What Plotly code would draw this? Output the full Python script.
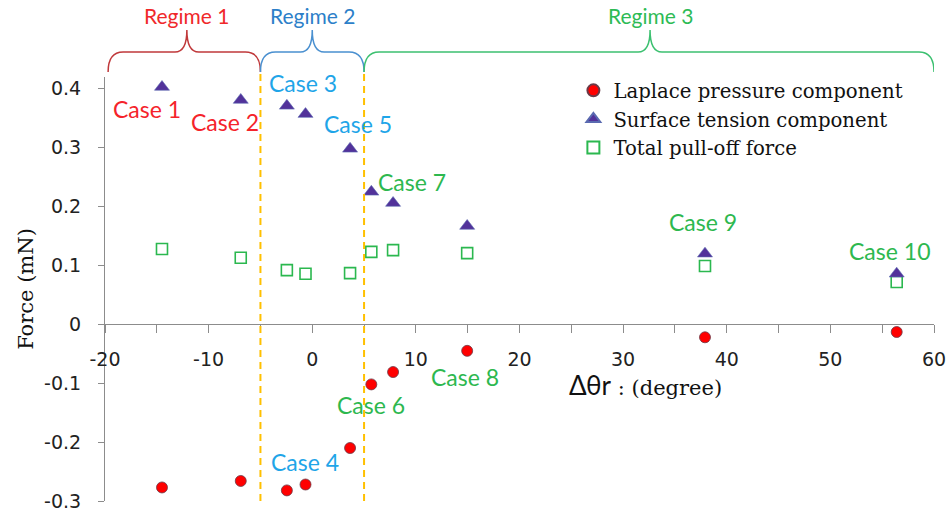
import plotly.graph_objects as go

# ---------------- data ----------------
cases = ["Case 1", "Case 2", "Case 3", "Case 4", "Case 5",
         "Case 6", "Case 7", "Case 8", "Case 9", "Case 10"]
delta_theta = [-14.5, -6.9, -2.45, -0.65, 3.65, 5.7, 7.8, 14.95, 37.9, 56.4]
laplace = [-0.277, -0.266, -0.282, -0.272, -0.210, -0.102, -0.081, -0.045, -0.022, -0.013]
surface = [0.403, 0.381, 0.371, 0.357, 0.298, 0.225, 0.206, 0.167, 0.120, 0.086]
total = [0.128, 0.113, 0.092, 0.086, 0.087, 0.123, 0.126, 0.121, 0.099, 0.072]

x_ticks = [-20, -10, 0, 10, 20, 30, 40, 50, 60]
x_ticklabels = ["-20", "-10", "0", "10", "20", "30", "40", "50", "60"]
y_ticks = [-0.3, -0.2, -0.1, 0, 0.1, 0.2, 0.3, 0.4]
y_ticklabels = ["-0.3", "-0.2", "-0.1", "0", "0.1", "0.2", "0.3", "0.4"]

# case label anchor positions (data coords) and colours
case_label_x = [-15.97, -8.41, -0.92, -0.68, 4.44, 5.70, 9.66, 14.78, 37.68, 55.75]
case_label_y = [0.366, 0.344, 0.410, -0.234, 0.341, -0.137, 0.242, -0.090, 0.174, 0.125]
case_regime = [1, 1, 2, 2, 2, 3, 3, 3, 3, 3]

regimes = ["Regime 1", "Regime 2", "Regime 3"]
regime_start = [-19.7, -5, 5]
regime_end = [-5, 5, 60]
regime_center = [-12.1, 0, 32.6]
regime_boundaries = [-5, 5]

RED_TXT = "#F5232B"
BLUE_TXT = "#1FA5E8"
GREEN_TXT = "#2DB84F"
text_colors = {1: RED_TXT, 2: BLUE_TXT, 3: GREEN_TXT}
brace_colors = ["#C0393B", "#4A90D0", "#3CC070"]
regime_text_colors = ["#F0282A", "#2C7FC9", "#2DBB55"]

SANS = "Lato"
SERIF = "DejaVu Serif"
TICKFONT = "DejaVu Sans"
AXIS_COLOR = "#8C8C8C"

fig = go.Figure()

fig.add_trace(go.Scatter(
    x=delta_theta, y=laplace, mode="markers", name="Laplace pressure component",
    marker=dict(symbol="circle", size=11, color="#FF0000",
                line=dict(color="#6A3A48", width=0.8))))
fig.add_trace(go.Scatter(
    x=delta_theta, y=total, mode="markers", name="Total pull-off force",
    marker=dict(symbol="square-open", size=11, color="#2BB84F",
                line=dict(width=1.6)), showlegend=False))
fig.add_trace(go.Scatter(
    x=delta_theta, y=surface, mode="markers", name="Surface tension component",
    marker=dict(symbol="triangle-up", size=13, color="#52329A",
                line=dict(color="#5A6AB0", width=0.6))))
# legend entry for the total (kept in legend order)
fig.add_trace(go.Scatter(
    x=[None], y=[None], mode="markers", name="Total pull-off force",
    marker=dict(symbol="square-open", size=11, color="#2BB84F",
                line=dict(width=1.6))))

# ---------- dashed regime boundaries ----------
for xb in regime_boundaries:
    fig.add_shape(type="line", xref="x", yref="paper", x0=xb, x1=xb, y0=0, y1=1.012,
                  line=dict(color="#FFC000", width=2, dash="7px,5px"))

# ---------- curly braces ----------
YB, YM, YT = 1.012, 1.059, 1.111
DX, DXC = 1.45, 1.15


def brace_path(x0, x1, xc):
    return (f"M {x0},{YB} Q {x0},{YM} {x0 + DX},{YM} "
            f"L {xc - DXC},{YM} Q {xc},{YM} {xc},{YT} "
            f"Q {xc},{YM} {xc + DXC},{YM} "
            f"L {x1 - DX},{YM} Q {x1},{YM} {x1},{YB}")


for i, name in enumerate(regimes):
    fig.add_shape(type="path", xref="x", yref="paper",
                  path=brace_path(regime_start[i], regime_end[i], regime_center[i]),
                  line=dict(color=brace_colors[i], width=1.5))
    fig.add_annotation(x=regime_center[i], y=1.146, xref="x", yref="paper",
                       xanchor="center", yanchor="middle",
                       text=name, showarrow=False,
                       font=dict(family=SANS, size=21, color=regime_text_colors[i]))

# ---------- case labels ----------
for i, c in enumerate(cases):
    fig.add_annotation(x=case_label_x[i], y=case_label_y[i], xref="x", yref="y",
                       xanchor="center", yanchor="middle",
                       text=c, showarrow=False,
                       font=dict(family=SANS, size=23, color=text_colors[case_regime[i]]))

# ---------- x-axis title ----------
fig.add_annotation(x=32.2, y=-0.103, xref="x", yref="y", showarrow=False,
                   xanchor="center", yanchor="middle",
                   text=(f"<span style='font-family:{SANS};font-size:26px'>Δθr</span>"
                         f" : (degree)"),
                   font=dict(family=SERIF, size=21, color="#111111"))

y_lo, y_hi = -0.3, 0.42
fig.update_layout(
    width=949, height=514,
    margin=dict(l=105, r=15, t=77, b=13),
    paper_bgcolor="white", plot_bgcolor="white",
    xaxis=dict(range=[-20, 60], anchor="free", position=(0 - y_lo) / (y_hi - y_lo),
               automargin=False,
               showline=True, linecolor=AXIS_COLOR, linewidth=1,
               showgrid=False, zeroline=False,
               tickmode="array", tickvals=x_ticks, ticktext=x_ticklabels,
               ticks="outside", ticklen=8, tickcolor=AXIS_COLOR,
               ticklabelstandoff=10,
               minor=dict(dtick=5, ticks="outside", ticklen=8, tickcolor=AXIS_COLOR,
                          showgrid=False),
               tickfont=dict(family=TICKFONT, size=19, color="#222222")),
    yaxis=dict(range=[y_lo, y_hi], automargin=False,
               showline=True, linecolor=AXIS_COLOR, linewidth=1,
               showgrid=False, zeroline=False,
               tickmode="array", tickvals=y_ticks, ticktext=y_ticklabels,
               ticks="outside", ticklen=6, tickcolor=AXIS_COLOR,
               ticklabelstandoff=13,
               tickfont=dict(family=TICKFONT, size=19, color="#222222"),
               title=dict(text="Force (mN)", standoff=4,
                          font=dict(family=SERIF, size=21, color="#111111"))),
    legend=dict(x=0.565, y=1.014, xanchor="left", yanchor="top",
                bgcolor="rgba(0,0,0,0)", font=dict(family=SERIF, size=19.7, color="#111111"),
                itemsizing="constant", tracegroupgap=0),
    showlegend=True,
)

fig.write_html("out.html")
